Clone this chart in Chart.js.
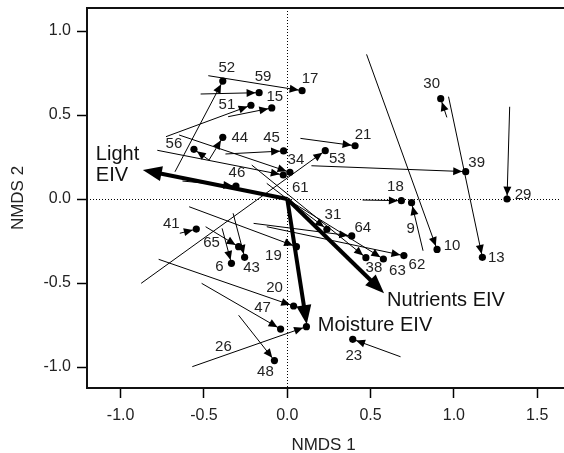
<!DOCTYPE html>
<html>
<head>
<meta charset="utf-8">
<script src="https://cdn.jsdelivr.net/npm/chart.js@4.4.1/dist/chart.umd.min.js"></script>
<style>
  html, body { margin: 0; padding: 0; background: #fff; }
  #wrap { width: 564px; height: 453px; position: relative; }
</style>
</head>
<body>
<div id="wrap"><canvas id="chart"></canvas></div>
<script>
// NMDS site shifts: arrow from start (earlier survey) to end (later survey, dot)
const sites  = ['52', '17', '59', '15', '51', '56', '44', '45', '34', '61', '46', '21', '53', '39', '30', '13', '29', '10',
                '18', '9', '62', '63', '38', '64', '31', '19', '41', '65', '43', '6', '20', '47', '48', '26', '23'];
const startX = [-0.674, -0.474, -0.520, -0.355, -0.728, -0.470, -0.470, -0.371, -0.649, -0.780, -0.629, 0.079, -0.877, 0.145, 0.958, 0.968, 1.335, 0.476,
                0.452, 0.815, -0.123, 0.030, -0.213, -0.202, -0.123, -0.589, -0.645, -0.490, -0.325, -0.391, -0.772, -0.514, -0.292, -0.570, 0.680];
const startY = [0.162, 0.734, 0.625, 0.490, 0.371, 0.232, 0.232, 0.268, 0.381, 0.290, 0.107, 0.361, -0.502, 0.198, 0.486, 0.609, 0.549, 0.861,
                -0.006, -0.308, -0.165, -0.020, 0.202, -0.145, 0.093, -0.046, -0.204, -0.165, -0.085, -0.175, -0.359, -0.502, -0.692, -0.998, -0.939];
const endX   = [-0.387, 0.089, -0.169, -0.093, -0.218, -0.560, -0.387, -0.022, 0.016, -0.024, -0.308, 0.407, 0.228, 1.071, 0.921, 1.171, 1.319, 0.899,
                0.685, 0.746, 0.700, 0.577, 0.472, 0.387, 0.238, 0.055, -0.546, -0.292, -0.256, -0.335, 0.038, -0.040, -0.077, 0.115, 0.393];
const endY   = [0.702, 0.645, 0.633, 0.542, 0.558, 0.296, 0.367, 0.286, 0.159, 0.143, 0.077, 0.317, 0.288, 0.163, 0.597, -0.347, 0.000, -0.300,
                -0.010, -0.022, -0.337, -0.357, -0.349, -0.220, -0.180, -0.284, -0.179, -0.284, -0.347, -0.383, -0.637, -0.774, -0.962, -0.760, -0.835];

// fitted EIV vectors
const eivNames = [['Light', 'EIV'], ['Nutrients EIV'], ['Moisture EIV']];
const eivX = [-0.867, 0.581, 0.117];
const eivY = [0.173, -0.561, -0.745];

const xTicks = [-1, -0.5, 0, 0.5, 1, 1.5];
const yTicks = [-1, -0.5, 0, 0.5, 1];

// label nudges in px from the dot (hand placed like the original)
const labelNudge = {
  52: [4, -13], 17: [8, -12], 59: [4, -16], 15: [3, -11], 51: [-24, 0], 56: [-20, -5], 44: [17, 1], 45: [-12, -13],
  34: [6, -12], 61: [17, 13], 46: [1, -13], 21: [8, -11], 53: [12, 8], 39: [11, -9], 30: [-9, -15], 13: [14, 1],
  29: [16, -4], 10: [15, -4], 18: [-6, -14], 9: [-1, 26], 62: [13, 9], 63: [14, 12], 38: [8, 10], 64: [11, -8],
  31: [6, -14], 19: [-23, 9], 41: [-25, -5], 65: [-27, -4], 43: [7, 11], 6: [-12, 4], 20: [-19, -18], 47: [-18, -21],
  48: [-9, 11], 26: [-83, 20], 23: [1, 17],
};
const eivNudge = [[-47, -15], [3, 7], [11, 1]];

const FONT = '"Liberation Sans", Arial, sans-serif';

function arrowHead(ctx, x0, y0, x1, y1, len, half) {
  const a = Math.atan2(y1 - y0, x1 - x0);
  const c = Math.cos(a), s = Math.sin(a);
  ctx.beginPath();
  ctx.moveTo(x1, y1);
  ctx.lineTo(x1 - len * c + half * s, y1 - len * s - half * c);
  ctx.lineTo(x1 - len * c - half * s, y1 - len * s + half * c);
  ctx.closePath();
  ctx.fill();
}

const ordiPlugin = {
  id: 'ordi',
  beforeDatasetsDraw(chart) {
    const { ctx, chartArea: a, scales: { x, y } } = chart;
    const x0 = Math.round(x.getPixelForValue(0)) + 0.5;
    const y0 = Math.round(y.getPixelForValue(0)) + 0.5;
    ctx.save();
    ctx.strokeStyle = '#000';
    ctx.lineWidth = 1;
    ctx.setLineDash([1, 2]);
    ctx.beginPath();
    ctx.moveTo(x0, a.top); ctx.lineTo(x0, a.bottom);
    ctx.moveTo(a.left, y0); ctx.lineTo(a.right, y0);
    ctx.stroke();
    ctx.restore();
  },
  afterDatasetsDraw(chart) {
    const { ctx, chartArea: a, scales: { x, y } } = chart;
    ctx.save();
    ctx.fillStyle = '#000';
    ctx.strokeStyle = '#000';

    // small arrowheads, tip stops at the dot edge
    sites.forEach((s, i) => {
      const px0 = x.getPixelForValue(startX[i]), py0 = y.getPixelForValue(startY[i]);
      const px1 = x.getPixelForValue(endX[i]), py1 = y.getPixelForValue(endY[i]);
      const d = Math.hypot(px1 - px0, py1 - py0);
      const tx = px1 - (px1 - px0) / d * 3.5, ty = py1 - (py1 - py0) / d * 3.5;
      arrowHead(ctx, px0, py0, tx, ty, 9, 4);
    });

    // EIV vectors
    const ox = x.getPixelForValue(0), oy = y.getPixelForValue(0);
    eivX.forEach((v, i) => {
      const tx = x.getPixelForValue(v), ty = y.getPixelForValue(eivY[i]);
      const d = Math.hypot(tx - ox, ty - oy);
      const bx = tx - (tx - ox) / d * 14, by = ty - (ty - oy) / d * 14;
      ctx.lineWidth = 4;
      ctx.lineCap = 'butt';
      ctx.beginPath();
      ctx.moveTo(ox, oy);
      ctx.lineTo(bx, by);
      ctx.stroke();
      arrowHead(ctx, ox, oy, tx, ty, 19, 7.5);
    });

    // site labels
    ctx.fillStyle = '#222';
    ctx.font = '15px ' + FONT;
    ctx.textAlign = 'center';
    ctx.textBaseline = 'middle';
    sites.forEach((s, i) => {
      const n = labelNudge[s];
      ctx.fillText(s, x.getPixelForValue(endX[i]) + n[0], y.getPixelForValue(endY[i]) + n[1]);
    });

    // EIV labels
    ctx.fillStyle = '#111';
    ctx.font = '20px ' + FONT;
    ctx.textAlign = 'left';
    eivNames.forEach((lines, i) => {
      const lx = x.getPixelForValue(eivX[i]) + eivNudge[i][0];
      const ly = y.getPixelForValue(eivY[i]) + eivNudge[i][1];
      lines.forEach((t, k) => ctx.fillText(t, lx, ly + k * 21));
    });

    // plot frame (right side runs off the figure)
    ctx.lineWidth = 2;
    ctx.strokeStyle = '#111';
    ctx.strokeRect(a.left, a.top, a.right - a.left + 20, a.bottom - a.top);
    ctx.restore();
  },
};

const arrowSets = sites.map((s, i) => ({
  type: 'line',
  data: [{ x: startX[i], y: startY[i] }, { x: endX[i], y: endY[i] }],
  borderColor: '#000',
  borderWidth: 1,
  pointRadius: 0,
  fill: false,
  order: 2,
}));

const dotSet = {
  type: 'scatter',
  data: sites.map((s, i) => ({ x: endX[i], y: endY[i] })),
  backgroundColor: '#000',
  borderWidth: 0,
  pointRadius: 3.6,
  order: 1,
};

new Chart(document.getElementById('chart'), {
  type: 'scatter',
  data: { datasets: [...arrowSets, dotSet] },
  plugins: [ordiPlugin],
  options: {
    responsive: true,
    maintainAspectRatio: false,
    animation: false,
    layout: { padding: { top: 8, right: 0, left: 0, bottom: 0 } },
    plugins: { legend: { display: false }, tooltip: { enabled: false } },
    scales: {
      x: {
        type: 'linear',
        min: -1.202,
        max: 1.637,
        afterFit: (s) => { s.height = 65; s.paddingLeft = 0; s.paddingRight = 0; },
        afterBuildTicks: (s) => { s.ticks = xTicks.map((v) => ({ value: v })); },
        border: { display: false },
        grid: { drawOnChartArea: false, drawTicks: true, tickLength: 10, tickColor: '#000', tickWidth: 1.5 },
        ticks: { padding: 8, color: '#222', font: { family: FONT, size: 16 }, callback: (v) => v.toFixed(1), maxRotation: 0 },
        title: { display: true, text: 'NMDS 1', color: '#222', font: { family: FONT, size: 17 }, padding: { top: 0, bottom: -3 } },
      },
      y: {
        type: 'linear',
        min: -1.125,
        max: 1.137,
        afterFit: (s) => { s.width = 87; s.paddingTop = 0; s.paddingBottom = 0; },
        afterBuildTicks: (s) => { s.ticks = yTicks.map((v) => ({ value: v })); },
        border: { display: false },
        grid: { drawOnChartArea: false, drawTicks: true, tickLength: 10, tickColor: '#000', tickWidth: 1.5 },
        ticks: { padding: 6, color: '#222', font: { family: FONT, size: 16 }, callback: (v) => v.toFixed(1) },
        title: { display: true, text: 'NMDS 2', color: '#222', font: { family: FONT, size: 17 }, padding: { top: 8, bottom: 0 } },
      },
    },
  },
});
</script>
</body>
</html>
